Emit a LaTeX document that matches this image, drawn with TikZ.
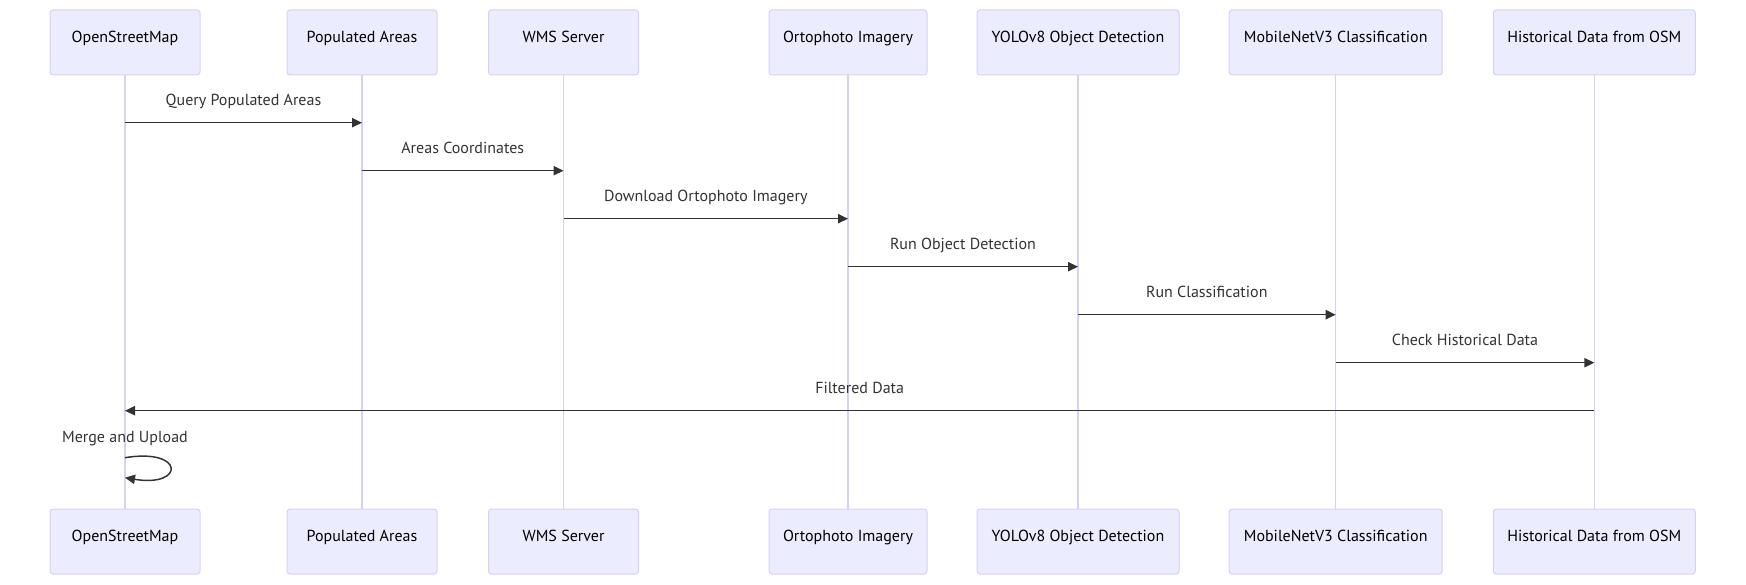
\documentclass[tikz,border=0pt]{standalone}
\usepackage{fontspec}
\setmainfont{PT Sans}
\usepackage{xcolor}
\usetikzlibrary{arrows.meta}

\definecolor{actorfill}{HTML}{ECECFF}
\definecolor{actorline}{HTML}{DACEF3}
\definecolor{msgcolor}{HTML}{333333}

\tikzset{
    actor/.style={draw=actorline, fill=actorfill, rounded corners=2.25pt, line width=0.75pt,
        minimum width=#1*0.75pt, minimum height=48.75pt, text height=6pt, text depth=6pt,
        font=\fontsize{12}{14}\selectfont},
    lifeline/.style={draw=actorline, line width=1pt},
    msg/.style={draw=msgcolor, line width=1.1pt, -{Triangle[length=7.5pt, width=7pt]}},
    msglabel/.style={anchor=base, yshift=13pt, text=msgcolor, font=\fontsize{12}{14}\selectfont}
}

\begin{document}
\begin{tikzpicture}[x=0.75pt, y=-0.75pt]
        \def\ytop{42.5}
        \def\ybot{541.5}
        \useasboundingbox (0,0) rectangle (1746,585);

        % Actors
        \node[actor=150] (osm) at (125,\ytop) {OpenStreetMap};
        \node[actor=150] (pop) at (362,\ytop) {Populated Areas};
        \node[actor=150] (wms) at (563.5,\ytop) {WMS Server};
        \node[actor=158] (ortho) at (848,\ytop) {Ortophoto Imagery};
        \node[actor=202] (yolo) at (1078,\ytop) {YOLOv8 Object Detection};
        \node[actor=213] (mnet) at (1335.7,\ytop) {MobileNetV3 Classification};
        \node[actor=202] (hist) at (1594.3,\ytop) {Historical Data from OSM};

        \node[actor=150] (osmb) at (125,\ybot) {OpenStreetMap};
        \node[actor=150] (popb) at (362,\ybot) {Populated Areas};
        \node[actor=150] (wmsb) at (563.5,\ybot) {WMS Server};
        \node[actor=158] (orthob) at (848,\ybot) {Ortophoto Imagery};
        \node[actor=202] (yolob) at (1078,\ybot) {YOLOv8 Object Detection};
        \node[actor=213] (mnetb) at (1335.7,\ybot) {MobileNetV3 Classification};
        \node[actor=202] (histb) at (1594.3,\ybot) {Historical Data from OSM};

        % Lifelines
        \draw[lifeline] (osm) -- (osmb);
        \draw[lifeline] (pop) -- (popb);
        \draw[lifeline] (wms) -- (wmsb);
        \draw[lifeline] (ortho) -- (orthob);
        \draw[lifeline] (yolo) -- (yolob);
        \draw[lifeline] (mnet) -- (mnetb);
        \draw[lifeline] (hist) -- (histb);

        % Messages
        \draw[msg] (osm |- 0,122.7) -- (pop |- 0,122.7) node[midway, msglabel] {Query Populated Areas};
        \draw[msg] (pop |- 0,170.7) -- (wms |- 0,170.7) node[midway, msglabel] {Areas Coordinates};
        \draw[msg] (wms |- 0,218.7) -- (ortho |- 0,218.7) node[midway, msglabel] {Download Ortophoto Imagery};
        \draw[msg] (ortho |- 0,266.7) -- (yolo |- 0,266.7) node[midway, msglabel] {Run Object Detection};
        \draw[msg] (yolo |- 0,314.7) -- (mnet |- 0,314.7) node[midway, msglabel] {Run Classification};
        \draw[msg] (mnet |- 0,362.7) -- (hist |- 0,362.7) node[midway, msglabel] {Check Historical Data};
        \draw[msg] (hist |- 0,410.7) -- (osm |- 0,410.7) node[midway, msglabel] {Filtered Data};

        % Self call
        \node[msglabel] (merge) at (125,459.5) {Merge and Upload};
        \draw[msg] (osm |- 0,457.7) .. controls +(60,-10) and +(60,10) .. (osm |- 0,477.7);
\end{tikzpicture}
\end{document}
